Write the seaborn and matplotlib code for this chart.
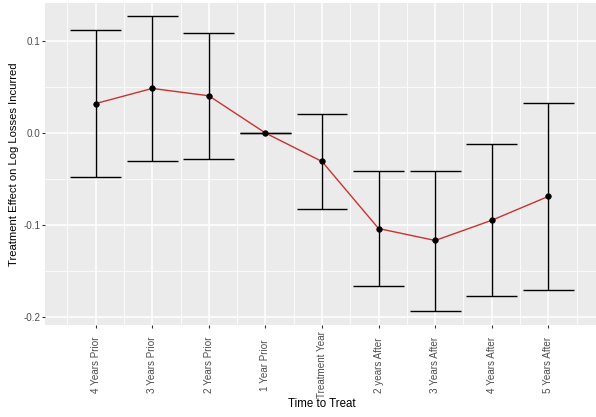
import matplotlib
matplotlib.use("Agg")
import matplotlib.pyplot as plt
import seaborn as sns
import pandas as pd
import numpy as np

categories = ["4 Years Prior", "3 Years Prior", "2 Years Prior", "1 Year Prior",
              "Treatment Year", "2 years After", "3 Years After", "4 Years After",
              "5 Years After"]
estimate = [0.032, 0.0485, 0.0405, 0.0, -0.031, -0.104, -0.117, -0.095, -0.069]
upper = [0.112, 0.127, 0.109, 0.0, 0.021, -0.041, -0.041, -0.0125, 0.0325]
lower = [-0.048, -0.030, -0.028, 0.0, -0.083, -0.167, -0.1935, -0.177, -0.171]
y_ticks = [-0.2, -0.1, 0.0, 0.1]
y_tick_labels = ["-0.2", "-0.1", "0.0", "0.1"]

df = pd.DataFrame({"pos": np.arange(1, len(categories) + 1), "cat": categories,
                   "est": estimate, "lo": lower, "hi": upper})

plt.rcParams['font.family'] = ['Liberation Sans', 'DejaVu Sans']
W, H = 596, 417
fig = plt.figure(figsize=(W / 100, H / 100), dpi=100)
ax = fig.add_axes([45 / W, 1 - 325 / H, 554 / W, 322 / H])
ax.set_facecolor("#EBEBEB")
for s in ax.spines.values():
    s.set_visible(False)

ax.set_xlim(0.105, 9.895)
ax.set_ylim(-0.209, 0.1415)
ax.set_xticks(df["pos"])
ax.set_xticks(np.arange(0.5, 10, 1.0), minor=True)
ax.set_yticks(y_ticks)
ax.set_yticks([-0.15, -0.05, 0.05], minor=True)
ax.grid(which="major", color="white", linewidth=1.1)
ax.grid(which="minor", color="white", linewidth=0.55)
ax.set_axisbelow(True)

# error bars
ax.vlines(df["pos"], df["lo"], df["hi"], color="black", linewidth=1.0, zorder=3)
ax.hlines(df["hi"], df["pos"] - 0.45, df["pos"] + 0.45, color="black", linewidth=1.0, zorder=3)
ax.hlines(df["lo"], df["pos"] - 0.45, df["pos"] + 0.45, color="black", linewidth=1.0, zorder=3)

sns.lineplot(data=df, x="pos", y="est", ax=ax, color="#C83232", linewidth=1.0, zorder=4)
sns.scatterplot(data=df, x="pos", y="est", ax=ax, color="black", s=16, edgecolor="black",
                linewidth=0.5, zorder=5)

ax.set_xticklabels(categories, rotation=90, va="center", ha="center")
ax.set_yticklabels(y_tick_labels)
ax.tick_params(axis="both", which="minor", length=0)
ax.tick_params(axis="both", which="major", length=2.2, color="#333333", width=0.8,
               labelsize=7.1, labelcolor="#4D4D4D")
ax.tick_params(axis="y", pad=1.2)
ax.tick_params(axis="x", pad=26.5)
ax.set_xlabel("")
ax.set_ylabel("")

fig.text(322 / W, 1 - 404 / H, "Time to Treat", ha="center", va="center", fontsize=8.3, color="black")
fig.text(14 / W, 1 - 164 / H, "Treatment Effect on Log Losses Incurred", ha="center", va="center",
         rotation=90, fontsize=8.1, color="black")

fig.savefig("out.png", dpi=100)
